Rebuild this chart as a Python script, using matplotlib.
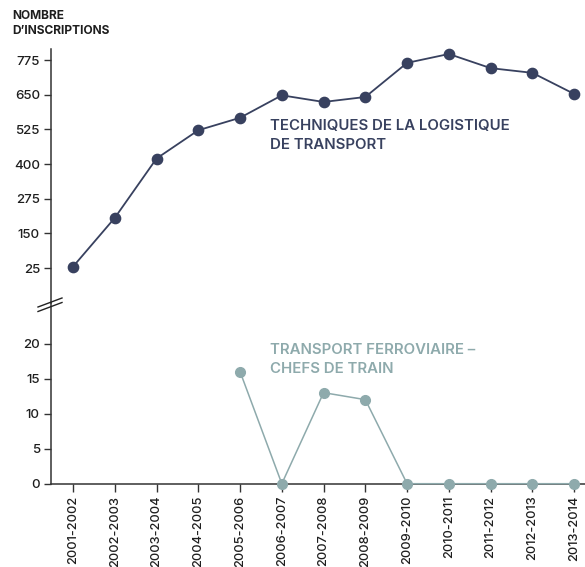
import matplotlib
matplotlib.use('Agg')
import matplotlib.pyplot as plt
from matplotlib.lines import Line2D

plt.rcParams['font.family'] = ['Inter', 'DejaVu Sans']

# Data
annees = ['2001-2002', '2002-2003', '2003-2004', '2004-2005', '2005-2006',
          '2006-2007', '2007-2008', '2008-2009', '2009-2010', '2010-2011',
          '2011-2012', '2012-2013', '2013-2014']
logistique = [30, 206, 420, 522, 567, 648, 624, 642, 765, 797, 746, 729, 653]
ferro_annees = annees[4:]
ferro = [16, 0, 13, 12, 0, 0, 0, 0, 0]

top_ticks = [25, 150, 275, 400, 525, 650, 775]
bot_ticks = [0, 5, 10, 15, 20]

c_dark = '#38415f'
c_teal = '#8eaaac'
c_txt = '#1e1e1e'

W, H = 585, 567
fig = plt.figure(figsize=(W / 100, H / 100), dpi=100)

x_left = 51 / W
y_break = 303
y_zero = 483.7
y_top = 49

ax_top = fig.add_axes([x_left, 1 - y_break / H, 1 - x_left, (y_break - y_top) / H])
ax_bot = fig.add_axes([x_left, 1 - y_zero / H, 1 - x_left, (y_zero - y_break) / H])

xi = list(range(len(annees)))
xf = [annees.index(a) for a in ferro_annees]

ax_top.plot(xi, logistique, color=c_dark, lw=1.3, marker='o', ms=7.4,
            mfc=c_dark, mec=c_dark, clip_on=False, zorder=3)
ax_bot.plot(xf, ferro, color=c_teal, lw=1.1, marker='o', ms=7.0,
            mfc=c_teal, mec=c_teal, clip_on=False, zorder=3)

xlim = (-0.527, 12.26)
for ax in (ax_top, ax_bot):
    ax.set_xlim(*xlim)
    ax.set_facecolor('none')
    for s in ('top', 'right'):
        ax.spines[s].set_visible(False)
    ax.spines['left'].set_color('#333333')
    ax.spines['left'].set_linewidth(1.1)
    ax.tick_params(axis='y', direction='out', length=5, width=1,
                   color='#333333', labelsize=9.6, labelcolor=c_txt, pad=3)

ax_top.set_ylim(-101, 815)
ax_top.set_yticks(top_ticks)
ax_top.set_yticklabels([str(v) for v in top_ticks], fontweight='medium')
ax_top.spines['bottom'].set_visible(False)
ax_top.set_xticks([])

ax_bot.set_ylim(0, 25.8)
ax_bot.set_yticks(bot_ticks)
ax_bot.set_yticklabels([str(v) for v in bot_ticks], fontweight='medium')
ax_bot.spines['bottom'].set_color('#333333')
ax_bot.spines['bottom'].set_linewidth(1.1)
ax_bot.set_xticks(xi)
ax_bot.set_xticklabels(annees, rotation=90, fontsize=9.2, color=c_txt,
                       fontweight='medium')
ax_bot.tick_params(axis='x', direction='out', length=6, width=1,
                   color='#333333', pad=2.5)

# Axis break marks
for dy in (0, 4.5):
    fig.add_artist(Line2D([38 / W, 62 / W],
                          [1 - (307 + dy) / H, 1 - (298 + dy) / H],
                          color='#222222', lw=1.0))

# Title
fig.text(12 / W, 1 - 10 / H, "NOMBRE\nD\u2019INSCRIPTIONS", fontsize=8.6,
         fontweight='bold', color=c_txt, ha='left', va='top', linespacing=1.35)

# Series labels
fig.text(270 / W, 1 - 119 / H, "TECHNIQUES DE LA LOGISTIQUE\nDE TRANSPORT",
         fontsize=10.8, fontweight='semibold', color=c_dark, ha='left', va='top',
         linespacing=1.45)
fig.text(270 / W, 1 - 343 / H, "TRANSPORT FERROVIAIRE \u2013\nCHEFS DE TRAIN",
         fontsize=10.8, fontweight='semibold', color=c_teal, ha='left', va='top',
         linespacing=1.45)

fig.savefig('out.png', dpi=100)
